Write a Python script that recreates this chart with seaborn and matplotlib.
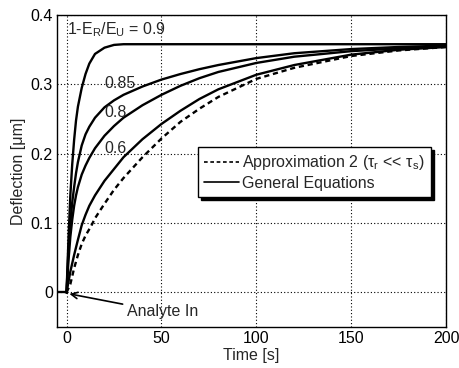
import numpy as np
import pandas as pd
import matplotlib
matplotlib.use("Agg")
import matplotlib.pyplot as plt
import seaborn as sns
from matplotlib.lines import Line2D

# ---- data ----
t = [0, 1, 2, 3, 4, 5, 6, 8, 10, 12, 15, 20, 25, 30, 40, 50, 60, 70, 80, 100, 120, 150, 175, 200]
ratio_090 = [0, 0.075, 0.14, 0.185, 0.22, 0.248, 0.268, 0.295, 0.315, 0.330, 0.344, 0.353, 0.357, 0.358,
             0.358, 0.358, 0.358, 0.358, 0.358, 0.358, 0.358, 0.358, 0.358, 0.358]
ratio_085 = [0, 0.06, 0.10, 0.13, 0.152, 0.172, 0.188, 0.212, 0.228, 0.239, 0.252, 0.267, 0.277, 0.285,
             0.297, 0.307, 0.315, 0.322, 0.328, 0.338, 0.345, 0.351, 0.354, 0.356]
ratio_080 = [0, 0.045, 0.08, 0.105, 0.125, 0.14, 0.152, 0.17, 0.183, 0.194, 0.208, 0.226, 0.240, 0.252,
             0.270, 0.285, 0.298, 0.309, 0.318, 0.331, 0.340, 0.348, 0.352, 0.355]
ratio_060 = [0, 0.015, 0.03, 0.042, 0.054, 0.065, 0.076, 0.097, 0.112, 0.125, 0.14, 0.161, 0.178, 0.195,
             0.221, 0.243, 0.262, 0.279, 0.293, 0.314, 0.328, 0.343, 0.350, 0.354]
t_approx = [0, 2, 4, 6, 8, 10, 13, 15, 20, 25, 30, 40, 50, 60, 70, 80, 100, 120, 150, 175, 200]
approx2 = [0, 0.012, 0.035, 0.054, 0.07, 0.082, 0.096, 0.107, 0.128, 0.148, 0.165, 0.195, 0.222, 0.246,
           0.265, 0.282, 0.308, 0.324, 0.341, 0.349, 0.354]
t_pre = [-5, 0]
pre_values = [0, 0]

curve_labels = ["1-E$_\\mathrm{R}$/E$_\\mathrm{U}$ = 0.9", "0.85", "0.8", "0.6"]
legend_labels = ["Approximation 2 (τ$_\\mathrm{r}$ << τ$_\\mathrm{s}$)", "General Equations"]
x_ticks = [0, 50, 100, 150, 200]
y_ticks = [0, 0.1, 0.2, 0.3, 0.4]
y_tick_labels = ["0", "0.1", "0.2", "0.3", "0.4"]

# ---- style ----
sns.set_style("white")
plt.rcParams["font.family"] = ["Liberation Sans", "DejaVu Sans"]
plt.rcParams["mathtext.fontset"] = "custom"
plt.rcParams["mathtext.rm"] = "Liberation Sans"
plt.rcParams["mathtext.it"] = "Liberation Sans:italic"

fs = 11.5
fig = plt.figure(figsize=(4.6, 3.68), dpi=100)
ax = fig.add_axes([0.124, 0.111, 0.846, 0.848])

lw = 1.7
for vals in [ratio_090, ratio_085, ratio_080, ratio_060]:
    sns.lineplot(x=t, y=vals, ax=ax, color="black", linewidth=lw, legend=False)
sns.lineplot(x=t_pre, y=pre_values, ax=ax, color="black", linewidth=lw, legend=False)
sns.lineplot(x=t_approx, y=approx2, ax=ax, color="black", linewidth=lw, legend=False,
             linestyle=(0, (2.2, 1.6)))

ax.set_xlim(-5, 200)
ax.set_ylim(-0.05, 0.4)
ax.set_xticks(x_ticks)
ax.set_yticks(y_ticks)
ax.set_yticklabels(y_tick_labels)
ax.grid(True, color="black", linestyle=(0, (1, 2)), linewidth=0.8)
ax.tick_params(direction="in", length=3, labelsize=fs, colors="black", pad=3)
for s in ax.spines.values():
    s.set_color("black")
    s.set_linewidth(1.0)

ax.set_xlabel("Time [s]", fontsize=fs, labelpad=1)
ax.set_ylabel("Deflection [μm]", fontsize=fs, labelpad=3)

# curve labels
ax.text(0, 0.379, curve_labels[0], fontsize=fs, va="center", ha="left")
ax.text(20, 0.302, curve_labels[1], fontsize=fs, va="center", ha="left")
ax.text(20, 0.26, curve_labels[2], fontsize=fs, va="center", ha="left")
ax.text(20, 0.207, curve_labels[3], fontsize=fs, va="center", ha="left")

ax.annotate("Analyte In", xy=(1.5, -0.002), xytext=(32, -0.028), fontsize=fs,
            va="center", ha="left",
            arrowprops=dict(arrowstyle="->", color="black", lw=1.2, shrinkA=1, shrinkB=0))

handles = [Line2D([], [], color="black", lw=1.2, linestyle=(0, (2.2, 1.6))),
           Line2D([], [], color="black", lw=1.2)]
leg = ax.legend(handles, legend_labels, loc="upper left", bbox_to_anchor=(0.362, 0.577),
                fontsize=fs, handlelength=2.2, handletextpad=0.15, borderpad=0.4,
                labelspacing=0.2, fancybox=False, framealpha=1, edgecolor="black",
                borderaxespad=0,
                shadow={"color": "black", "alpha": 1.0})
leg.get_frame().set_linewidth(1.0)

fig.savefig("out.png", dpi=100)
